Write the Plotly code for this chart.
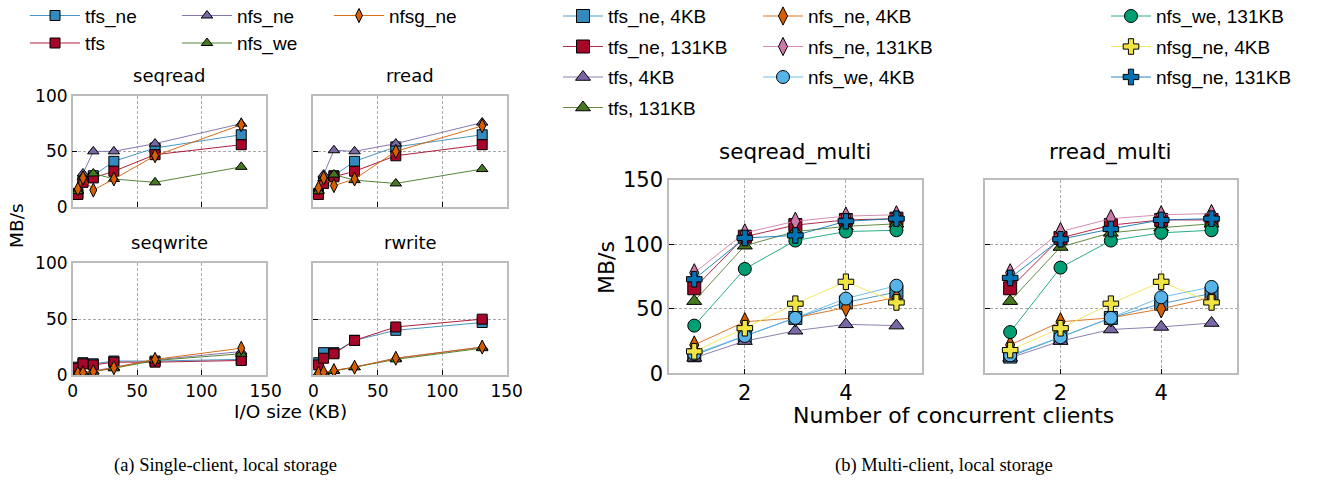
import plotly.graph_objects as go

# ---------------- data: single-client (left) ----------------
io_sizes = [4, 8, 16, 32, 64, 131]
left_series = ["tfs_ne", "tfs", "nfs_ne", "nfs_we", "nfsg_ne"]

seqread_tfs_ne = [12, 23, 28, 41, 53, 65]
seqread_tfs = [11, 22, 26, 32, 47, 56]
seqread_nfs_ne = [15, 30, 50, 50, 57, 75]
seqread_nfs_we = [14, 27, 30, 25, 22, 36]
seqread_nfsg_ne = [16, 26, 15, 25, 46, 74]

rread_tfs_ne = [12, 23, 28, 41, 54, 65]
rread_tfs = [11, 21, 27, 32, 46, 56]
rread_nfs_ne = [15, 29, 51, 50, 57, 76]
rread_nfs_we = [14, 26, 29, 24, 21, 34]
rread_nfsg_ne = [17, 26, 19, 25, 50, 73]

seqwrite_tfs_ne = [7, 11, 10, 12.5, 12.5, 14]
seqwrite_tfs = [6, 10, 9, 11.5, 11.5, 13]
seqwrite_nfs_ne = [2, 2.5, 3.5, 7, 13.5, 21]
seqwrite_nfs_we = [1.5, 2, 3, 6, 13, 19]
seqwrite_nfsg_ne = [1.5, 2, 3, 6.5, 14, 24]

rwrite_tfs_ne = [11, 20, 20, 31, 40, 47]
rwrite_tfs = [9, 15, 19, 31, 43, 50]
rwrite_nfs_ne = [1.5, 2, 4, 7, 15, 25]
rwrite_nfs_we = [1.5, 2, 3.5, 7, 14, 24]
rwrite_nfsg_ne = [1.5, 2.5, 4, 7, 15, 25]

# ---------------- data: multi-client (right) ----------------
clients = [1, 2, 3, 4, 5]
right_series = ["tfs_ne, 4KB", "tfs_ne, 131KB", "tfs, 4KB", "tfs, 131KB",
                "nfs_ne, 4KB", "nfs_ne, 131KB", "nfs_we, 4KB",
                "nfs_we, 131KB", "nfsg_ne, 4KB", "nfsg_ne, 131KB"]

seqm_tfs_ne_4 = [14, 29, 43, 55, 63]
seqm_tfs_ne_131 = [66, 106, 115, 119, 120]
seqm_tfs_4 = [12, 25, 33, 38, 37]
seqm_tfs_131 = [56, 99, 110, 114, 116]
seqm_nfs_ne_4 = [22, 40, 43, 51, 59]
seqm_nfs_ne_131 = [78, 109, 118, 122, 123]
seqm_nfs_we_4 = [15, 29, 43, 58, 68]
seqm_nfs_we_131 = [37, 81, 103, 110, 111]
seqm_nfsg_ne_4 = [17, 35, 54, 71, 55]
seqm_nfsg_ne_131 = [73, 105, 107, 118, 120]

rrm_tfs_ne_4 = [13, 28, 43, 54, 62]
rrm_tfs_ne_131 = [66, 105, 115, 119, 119]
rrm_tfs_4 = [12, 25, 34, 36, 39]
rrm_tfs_131 = [56, 98, 109, 113, 116]
rrm_nfs_ne_4 = [22, 40, 43, 50, 59]
rrm_nfs_ne_131 = [78, 110, 120, 123, 124]
rrm_nfs_we_4 = [14, 28, 43, 59, 67]
rrm_nfs_we_131 = [32, 82, 103, 109, 111]
rrm_nfsg_ne_4 = [18, 35, 54, 71, 55]
rrm_nfsg_ne_131 = [74, 104, 112, 119, 120]

# ---------------- styles ----------------
left_colors = ["#348ABD", "#A60628", "#7A68A6", "#467821", "#D55E00"]
left_symbols = ["square", "square", "triangle-up", "triangle-up", "diamond-tall"]
right_colors = ["#348ABD", "#A60628", "#7A68A6", "#467821", "#D55E00",
                "#CC79A7", "#56B4E9", "#009E73", "#F0E442", "#0072B2"]
right_symbols = ["square", "square", "triangle-up", "triangle-up", "diamond-tall",
                 "diamond-tall", "circle", "circle", "cross", "cross"]

# legend layout: which row-legend each series goes to, and its column width
left_leg_rows = ["legend", "legend2", "legend", "legend2", "legend"]
left_leg_w = [87, 87, 87, 87, None]
right_leg_rows = ["legend3", "legend4", "legend5", "legend6",
                  "legend3", "legend4", "legend5",
                  "legend3", "legend4", "legend5"]
right_leg_w = [145, 145, 145, 145, 293, 293, 293, None, None, None]

W, H = 1325, 481
def px(x):
    return x / W
def py(y):
    return 1 - y / H

fig = go.Figure()

left_panels = [
    ("seqread", [seqread_tfs_ne, seqread_tfs, seqread_nfs_ne, seqread_nfs_we, seqread_nfsg_ne],
     (72.7, 265.7), (96, 206.7)),
    ("rread", [rread_tfs_ne, rread_tfs, rread_nfs_ne, rread_nfs_we, rread_nfsg_ne],
     (313.3, 506.7), (96, 206.7)),
    ("seqwrite", [seqwrite_tfs_ne, seqwrite_tfs, seqwrite_nfs_ne, seqwrite_nfs_we, seqwrite_nfsg_ne],
     (72.7, 265.7), (263.3, 375)),
    ("rwrite", [rwrite_tfs_ne, rwrite_tfs, rwrite_nfs_ne, rwrite_nfs_we, rwrite_nfsg_ne],
     (313.3, 506.7), (263.3, 375)),
]
right_panels = [
    ("seqread_multi", [seqm_tfs_ne_4, seqm_tfs_ne_131, seqm_tfs_4, seqm_tfs_131, seqm_nfs_ne_4,
                       seqm_nfs_ne_131, seqm_nfs_we_4, seqm_nfs_we_131, seqm_nfsg_ne_4, seqm_nfsg_ne_131],
     (669, 921.7), (180, 373.3)),
    ("rread_multi", [rrm_tfs_ne_4, rrm_tfs_ne_131, rrm_tfs_4, rrm_tfs_131, rrm_nfs_ne_4,
                     rrm_nfs_ne_131, rrm_nfs_we_4, rrm_nfs_we_131, rrm_nfsg_ne_4, rrm_nfsg_ne_131],
     (985, 1236.7), (180, 373.3)),
]

def rgba(hexc, a):
    h = hexc.lstrip("#")
    return "rgba(%d,%d,%d,%.2f)" % (int(h[0:2], 16), int(h[2:4], 16), int(h[4:6], 16), a)

annotations = []
axis_common = dict(showline=True, mirror=True, linecolor="#bcbcbc", linewidth=1.5,
                   showgrid=True, gridcolor="#a8a8a8", griddash="3px,2px", gridwidth=1,
                   ticks="inside", ticklen=5, tickcolor="black", tickwidth=1.2,
                   zeroline=False)

idx = 0
for p, (title, ys, (x0, x1), (y0, y1)) in enumerate(left_panels):
    idx += 1
    xa = "x" if idx == 1 else "x%d" % idx
    ya = "y" if idx == 1 else "y%d" % idx
    for s, name in enumerate(left_series):
        tr = dict(
            x=io_sizes, y=ys[s], name=name, mode="lines+markers",
            xaxis=xa, yaxis=ya, legend=left_leg_rows[s],
            showlegend=(p == 0),
            line=dict(color=rgba(left_colors[s], 0.9), width=1),
            marker=dict(symbol=left_symbols[s], color=left_colors[s], size=10,
                        line=dict(color="black", width=1)))
        if left_leg_w[s] is not None:
            tr["legendwidth"] = left_leg_w[s]
        fig.add_trace(go.Scatter(**tr))
    xkey = "xaxis" if idx == 1 else "xaxis%d" % idx
    ykey = "yaxis" if idx == 1 else "yaxis%d" % idx
    fig.layout[xkey] = dict(axis_common, domain=[px(x0), px(x1)], anchor=ya, range=[0, 150],
                            tickvals=[0, 50, 100, 150], showticklabels=(p >= 2),
                            tickfont=dict(family="DejaVu Sans", size=17, color="black"))
    fig.layout[ykey] = dict(axis_common, domain=[py(y1), py(y0)], anchor=xa, range=[0, 100],
                            tickvals=[0, 50, 100], showticklabels=(p % 2 == 0),
                            tickfont=dict(family="DejaVu Sans", size=17, color="black"))
    annotations.append(dict(text=title, x=px((x0 + x1) / 2), y=py(y0 - 21), xref="paper", yref="paper",
                            showarrow=False, xanchor="center", yanchor="middle",
                            font=dict(family="DejaVu Sans", size=18, color="black")))

for p, (title, ys, (x0, x1), (y0, y1)) in enumerate(right_panels):
    idx += 1
    xa = "x%d" % idx
    ya = "y%d" % idx
    for s, name in enumerate(right_series):
        tr = dict(
            x=clients, y=ys[s], name=name, mode="lines+markers",
            xaxis=xa, yaxis=ya, legend=right_leg_rows[s],
            showlegend=(p == 0),
            line=dict(color=rgba(right_colors[s], 0.85), width=1),
            marker=dict(symbol=right_symbols[s], color=right_colors[s], size=13,
                        line=dict(color="black", width=1)))
        if right_leg_w[s] is not None:
            tr["legendwidth"] = right_leg_w[s]
        fig.add_trace(go.Scatter(**tr))
    fig.layout["xaxis%d" % idx] = dict(axis_common, domain=[px(x0), px(x1)], anchor=ya, range=[0.5, 5.5],
                                       tickvals=[2, 4],
                                       tickfont=dict(family="DejaVu Sans", size=21, color="black"))
    fig.layout["yaxis%d" % idx] = dict(axis_common, domain=[py(y1), py(y0)], anchor=xa, range=[0, 150],
                                       tickvals=[0, 50, 100, 150], showticklabels=(p == 0),
                                       tickfont=dict(family="DejaVu Sans", size=21, color="black"))
    annotations.append(dict(text=title, x=px((x0 + x1) / 2), y=py(y0 - 28), xref="paper", yref="paper",
                            showarrow=False, xanchor="center", yanchor="middle",
                            font=dict(family="DejaVu Sans", size=21.5, color="black")))

# axis titles and captions
annotations += [
    dict(text="MB/s", x=px(16), y=py(226), textangle=-90, showarrow=False, xref="paper", yref="paper",
         xanchor="center", yanchor="middle", font=dict(family="DejaVu Sans", size=18.5, color="black")),
    dict(text="I/O size (KB)", x=px(290), y=py(411), showarrow=False, xref="paper", yref="paper",
         xanchor="center", yanchor="middle", font=dict(family="DejaVu Sans", size=18.5, color="black")),
    dict(text="MB/s", x=px(606), y=py(268), textangle=-90, showarrow=False, xref="paper", yref="paper",
         xanchor="center", yanchor="middle", font=dict(family="DejaVu Sans", size=22, color="black")),
    dict(text="Number of concurrent clients", x=px(953), y=py(415), showarrow=False, xref="paper",
         yref="paper", xanchor="center", yanchor="middle",
         font=dict(family="DejaVu Sans", size=22, color="black")),
    dict(text="(a) Single-client, local storage", x=px(225), y=py(465), showarrow=False, xref="paper",
         yref="paper", xanchor="center", yanchor="middle",
         font=dict(family="Liberation Serif", size=18.5, color="black")),
    dict(text="(b) Multi-client, local storage", x=px(944), y=py(465), showarrow=False, xref="paper",
         yref="paper", xanchor="center", yanchor="middle",
         font=dict(family="Liberation Serif", size=18.5, color="black")),
]

ROW_OFF = 18.85  # distance from legend top to first row centre (font 19)
left_leg = dict(xanchor="left", yanchor="top", bgcolor="rgba(0,0,0,0)", borderwidth=0,
                orientation="h", traceorder="normal", itemwidth=50, entrywidthmode="pixels",
                font=dict(family="Liberation Sans", size=19, color="black"), x=px(25))
right_leg = dict(left_leg, itemwidth=40, x=px(558))

fig.update_layout(
    width=W, height=H, margin=dict(l=0, r=0, t=0, b=0, autoexpand=False),
    paper_bgcolor="white", plot_bgcolor="white",
    annotations=annotations,
    legend=dict(left_leg, y=py(15.5 - ROW_OFF)),
    legend2=dict(left_leg, y=py(43 - ROW_OFF)),
    legend3=dict(right_leg, y=py(16 - ROW_OFF)),
    legend4=dict(right_leg, y=py(46.5 - ROW_OFF)),
    legend5=dict(right_leg, y=py(77 - ROW_OFF)),
    legend6=dict(right_leg, y=py(107.5 - ROW_OFF)),
)

# remove the browser's default 8px page margin so the figure sits at the window origin
fig.write_html("out.html", config={"displayModeBar": False},
               post_script="document.body.style.margin='0';")
